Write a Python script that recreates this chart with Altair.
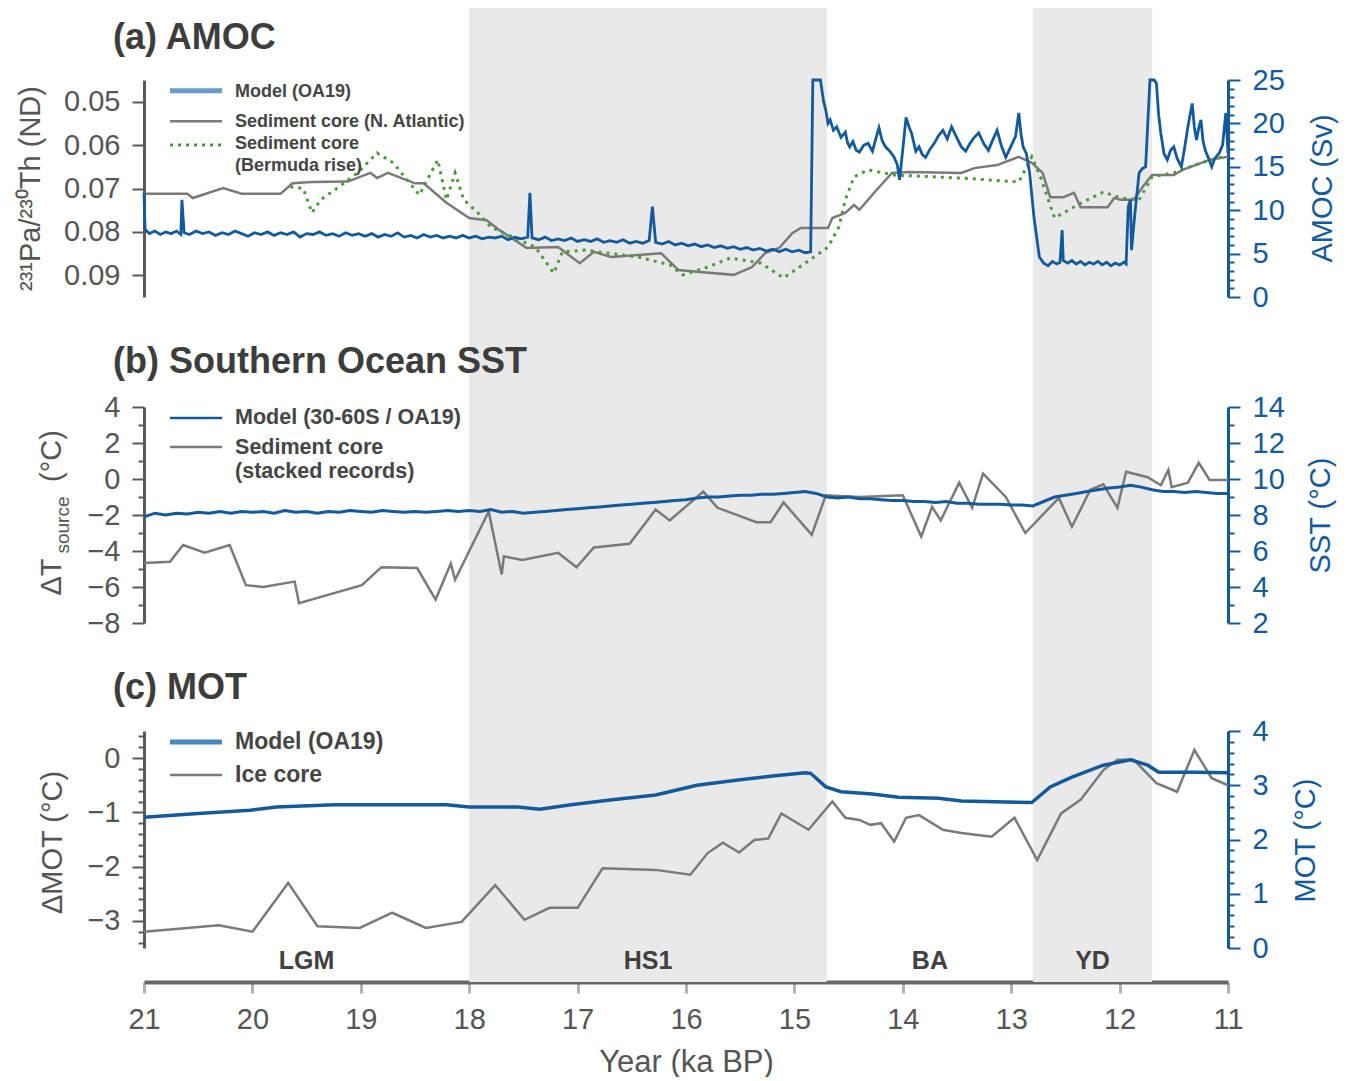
import altair as alt
import pandas as pd

# ---------------- data ----------------
# (a) AMOC model (Sv, right axis)
AMOC_T = [21.00, 20.99, 20.95, 20.90, 20.85, 20.80, 20.75, 20.70, 20.66, 20.65, 20.63, 20.58, 20.52, 20.46,
          20.40, 20.34, 20.28, 20.22, 20.16, 20.10, 20.04, 19.98, 19.92, 19.86, 19.80, 19.74, 19.68, 19.62,
          19.56, 19.50, 19.44, 19.38, 19.32, 19.26, 19.20, 19.14, 19.08, 19.02, 18.96, 18.90, 18.84, 18.78,
          18.72, 18.66, 18.60, 18.54, 18.48, 18.42, 18.36, 18.30, 18.24, 18.18, 18.12, 18.06, 18.00, 17.94,
          17.88, 17.82, 17.76, 17.70, 17.64, 17.58, 17.52, 17.46, 17.44, 17.42, 17.36, 17.30, 17.24, 17.18,
          17.12, 17.06, 17.00, 16.94, 16.88, 16.82, 16.76, 16.70, 16.64, 16.58, 16.52, 16.46, 16.40, 16.34,
          16.31, 16.28, 16.22, 16.16, 16.10, 16.04, 15.98, 15.92, 15.86, 15.80, 15.74, 15.68, 15.62, 15.56,
          15.50, 15.44, 15.38, 15.32, 15.26, 15.20, 15.14, 15.08, 15.02, 14.96, 14.90, 14.85,
          14.83, 14.76, 14.73, 14.71, 14.69, 14.67, 14.64, 14.61, 14.57, 14.53, 14.51, 14.49, 14.46, 14.43,
          14.40, 14.36, 14.32, 14.28, 14.25, 14.22, 14.19, 14.16, 14.12, 14.08, 14.05, 14.03, 14.00, 13.97,
          13.94, 13.92, 13.88, 13.85, 13.82, 13.79, 13.75, 13.71, 13.67, 13.63, 13.59, 13.55, 13.50, 13.46,
          13.42, 13.38, 13.34, 13.30, 13.25, 13.21, 13.17, 13.13, 13.09, 13.05, 13.02, 12.99, 12.96, 12.93,
          12.91, 12.89, 12.86, 12.83, 12.79, 12.74, 12.70, 12.66, 12.62, 12.58, 12.55, 12.53, 12.52, 12.48,
          12.44, 12.40, 12.36, 12.32, 12.28, 12.24, 12.20, 12.16, 12.12, 12.08, 12.04, 12.00, 11.96, 11.94,
          11.92, 11.90, 11.89, 11.86, 11.82, 11.79, 11.76, 11.74, 11.72, 11.68, 11.66, 11.64, 11.62, 11.59,
          11.56, 11.53, 11.50, 11.47, 11.43, 11.40, 11.37, 11.35, 11.33, 11.31, 11.29, 11.27, 11.25, 11.23,
          11.21, 11.18, 11.15, 11.12, 11.08, 11.05, 11.02, 11.00]
AMOC_SV = [12.0, 7.8, 7.3, 7.6, 7.2, 7.5, 7.3, 7.6, 7.2, 11.2, 7.4, 7.2, 7.6, 7.3,
           7.5, 7.1, 7.4, 7.2, 7.6, 7.3, 7.0, 7.4, 7.2, 7.5, 7.1, 7.4, 7.2, 7.5,
           6.9, 7.3, 7.2, 7.5, 7.1, 7.3, 7.0, 7.4, 7.1, 7.3, 7.0, 7.3, 6.9, 7.2,
           7.0, 7.4, 6.9, 7.1, 6.8, 7.2, 6.9, 7.1, 6.8, 7.0, 6.8, 7.1, 6.8, 7.0,
           6.7, 6.9, 6.8, 7.0, 6.6, 6.9, 6.7, 6.9, 12.0, 6.8, 6.6, 6.9, 6.5, 6.7,
           6.5, 6.8, 6.4, 6.6, 6.4, 6.7, 6.3, 6.5, 6.3, 6.6, 6.2, 6.4, 6.2, 6.5,
           10.4, 6.3, 6.1, 6.4, 6.0, 6.2, 5.9, 6.1, 5.8, 6.0, 5.7, 5.9, 5.6, 5.8,
           5.5, 5.7, 5.4, 5.6, 5.3, 5.5, 5.2, 5.5, 5.2, 5.4, 5.1, 5.2,
           25.0, 25.0, 22.5, 21.5, 20.0, 20.4, 19.2, 19.6, 18.4, 19.0, 17.8, 17.3, 17.9, 16.9,
           16.7, 17.5, 17.7, 16.8, 18.2, 19.5, 18.0, 17.3, 16.8, 16.1, 15.2, 13.5, 17.0, 20.7,
           19.5, 18.9, 16.8, 17.3, 16.4, 16.1, 17.0, 17.7, 18.6, 19.2, 18.2, 19.6, 18.3, 17.3,
           16.8, 17.7, 18.4, 18.9, 17.6, 16.9, 18.1, 19.2, 17.4, 16.1, 16.9, 17.7, 18.5, 21.2,
           18.8, 17.3, 16.5, 14.3, 9.2, 4.6, 3.9, 3.6, 4.1, 3.8, 4.0, 7.7, 4.2, 3.9,
           4.2, 3.8, 4.1, 3.7, 4.0, 3.8, 4.1, 3.7, 4.0, 3.6, 3.9, 3.7, 4.0, 3.8,
           10.4, 11.2, 5.4, 9.5, 14.3, 14.8, 15.0, 20.0, 25.0, 25.0, 24.6, 21.0, 18.9, 16.5,
           15.8, 16.9, 17.3, 16.0, 15.0, 17.2, 19.6, 21.0, 22.3, 19.5, 18.1, 19.5, 20.4, 18.0,
           16.9, 16.0, 15.0, 16.0, 16.6, 17.5, 21.2, 16.6]

# (a) 231Pa/230Th, N. Atlantic core (left axis)
NATL_T = [21.0, 20.6, 20.55, 20.27, 20.1, 19.74, 19.63, 19.45, 19.12, 18.91, 18.85, 18.75, 18.5, 18.42,
          18.21, 18.0, 17.84, 17.72, 17.47, 17.18, 16.98, 16.85, 16.69, 16.23, 16.07, 15.9, 15.56, 15.39,
          15.27, 15.14, 15.02, 14.94, 14.69, 14.65, 14.53, 14.45, 14.40, 14.24, 14.1, 13.95, 13.46, 13.34,
          13.13, 12.93, 12.81, 12.71, 12.64, 12.52, 12.42, 12.36, 12.11, 12.05, 11.99, 11.87, 11.79, 11.7,
          11.5, 11.42, 11.17, 11.0]
NATL_V = [0.0712, 0.0712, 0.0722, 0.0699, 0.0712, 0.0712, 0.0688, 0.0685, 0.0684, 0.0664, 0.0676, 0.0664,
          0.0688, 0.0688, 0.0733, 0.0768, 0.0773, 0.0796, 0.0837, 0.0835, 0.0872, 0.0846, 0.0858, 0.0849,
          0.0888, 0.0892, 0.0899, 0.0881, 0.0849, 0.0837, 0.0803, 0.0791, 0.0791, 0.0768, 0.0756, 0.0738,
          0.0749, 0.0703, 0.0664, 0.0662, 0.0664, 0.0653, 0.0646, 0.0627, 0.0641, 0.0664, 0.0720, 0.0720,
          0.0710, 0.0743, 0.0743, 0.0722, 0.0726, 0.0726, 0.0697, 0.0669, 0.0669, 0.0657, 0.0634, 0.0627]

# (a) 231Pa/230Th, Bermuda rise core (left axis)
BERM_T = [19.65, 19.53, 19.45, 19.37, 19.2, 19.03, 18.85, 18.7, 18.46, 18.29, 18.21, 18.13, 18.05, 17.92,
          17.8, 17.6, 17.39, 17.22, 17.14, 16.93, 16.44, 16.15, 16.03, 15.8, 15.59, 15.31, 15.1, 14.9,
          14.69, 14.59, 14.53, 14.45, 14.32, 14.08, 13.46, 12.93, 12.81, 12.73, 12.6, 12.39, 12.15, 11.99,
          11.82, 11.7, 11.5, 11.25, 11.05]
BERM_V = [0.0696, 0.0700, 0.0756, 0.0726, 0.0696, 0.0664, 0.0618, 0.0641, 0.0715, 0.0634, 0.0726, 0.0664,
          0.0726, 0.0756, 0.0789, 0.0812, 0.0835, 0.0895, 0.0846, 0.0842, 0.0858, 0.0876, 0.0899, 0.0881,
          0.0860, 0.0872, 0.0906, 0.0872, 0.0835, 0.0789, 0.0726, 0.0673, 0.0657, 0.0669, 0.0676, 0.0685,
          0.0627, 0.0673, 0.0768, 0.0738, 0.0708, 0.0722, 0.0726, 0.0673, 0.0664, 0.0641, 0.0627]

# (b) Southern Ocean SST, model (degC, right axis)
SST_T = [21.0, 20.9, 20.8, 20.7, 20.6, 20.5, 20.4, 20.3, 20.2, 20.1, 20.0, 19.9, 19.8, 19.7, 19.6, 19.5,
         19.4, 19.3, 19.2, 19.1, 19.0, 18.9, 18.8, 18.7, 18.6, 18.5, 18.4, 18.3, 18.2, 18.1, 18.0, 17.9,
         17.8, 17.7, 17.6, 17.5, 17.4, 17.3, 17.2, 17.1, 17.0, 16.9, 16.8, 16.7, 16.6, 16.5, 16.4, 16.3,
         16.2, 16.1, 16.0, 15.9, 15.8, 15.7, 15.6, 15.5, 15.4, 15.3, 15.2, 15.1, 15.0, 14.9, 14.8, 14.7,
         14.6, 14.5, 14.4, 14.3, 14.2, 14.1, 14.0, 13.9, 13.8, 13.7, 13.6, 13.5, 13.4, 13.3, 13.2, 13.1,
         13.0, 12.9, 12.8, 12.7, 12.6, 12.5, 12.4, 12.3, 12.2, 12.1, 12.0, 11.9, 11.8, 11.7, 11.6, 11.5,
         11.4, 11.3, 11.2, 11.1, 11.0]
SST_V = [7.9, 8.1, 8.0, 8.1, 8.05, 8.15, 8.1, 8.2, 8.1, 8.2, 8.15, 8.2, 8.1, 8.25, 8.15, 8.2,
         8.1, 8.2, 8.15, 8.25, 8.2, 8.15, 8.25, 8.2, 8.15, 8.2, 8.15, 8.2, 8.25, 8.2, 8.25, 8.2,
         8.3, 8.15, 8.2, 8.1, 8.15, 8.2, 8.25, 8.3, 8.35, 8.4, 8.45, 8.5, 8.55, 8.6, 8.65, 8.7,
         8.75, 8.8, 8.85, 8.95, 9.0, 9.0, 9.05, 9.1, 9.1, 9.15, 9.15, 9.2, 9.25, 9.3, 9.2, 9.0,
         8.95, 9.0, 8.9, 8.9, 8.85, 8.8, 8.8, 8.75, 8.75, 8.7, 8.75, 8.65, 8.65, 8.6, 8.6, 8.6,
         8.55, 8.55, 8.5, 8.75, 9.0, 9.1, 9.2, 9.3, 9.4, 9.5, 9.55, 9.65, 9.55, 9.4, 9.3, 9.3,
         9.25, 9.3, 9.25, 9.2, 9.2]

# (b) Delta T source, stacked sediment records (left axis)
DSST_T = [21.0, 20.76, 20.64, 20.44, 20.21, 20.06, 19.9, 19.61, 19.57, 18.99, 18.81, 18.48, 18.31, 18.17,
          18.13, 17.82, 17.7, 17.68, 17.51, 17.18, 17.01, 16.85, 16.52, 16.28, 16.15, 15.84, 15.71, 15.35,
          15.22, 15.1, 14.84, 14.71, 14.4, 14.0, 13.83, 13.73, 13.65, 13.48, 13.36, 13.26, 13.05, 12.87,
          12.56, 12.44, 12.27, 12.15, 12.02, 11.94, 11.74, 11.62, 11.55, 11.52, 11.37, 11.27, 11.17, 11.0]
DSST_V = [-4.67, -4.6, -3.67, -4.1, -3.67, -5.9, -6.0, -5.7, -6.9, -5.9, -4.9, -4.95, -6.7, -4.7,
          -5.6, -1.8, -5.3, -4.3, -4.5, -4.1, -4.9, -3.8, -3.6, -1.7, -2.3, -0.7, -1.6, -2.4,
          -2.4, -1.3, -3.1, -0.9, -1.0, -0.9, -3.2, -1.55, -2.3, -0.2, -1.6, 0.3, -1.0, -3.0,
          -1.05, -2.65, -0.6, -0.3, -1.6, 0.4, 0.1, -0.35, 0.5, -0.45, -0.2, 0.9, -0.05, -0.05]

# (c) MOT model (degC, right axis)
MOT_T = [21.0, 20.5, 20.02, 19.78, 19.24, 18.71, 18.21, 18.0, 17.55, 17.35, 17.06, 16.7, 16.28, 15.9,
         15.5, 15.2, 14.9, 14.85, 14.71, 14.57, 14.28, 14.04, 13.67, 13.46, 13.05, 12.81, 12.64, 12.44,
         12.15, 11.9, 11.74, 11.64, 11.3, 11.0]
MOT_V = [2.41, 2.48, 2.54, 2.60, 2.64, 2.64, 2.64, 2.60, 2.60, 2.56, 2.64, 2.73, 2.82, 3.00,
         3.10, 3.17, 3.23, 3.22, 2.97, 2.88, 2.84, 2.78, 2.76, 2.71, 2.69, 2.68, 2.97, 3.15,
         3.37, 3.47, 3.37, 3.24, 3.24, 3.23]

# (c) Delta MOT, ice core (left axis)
DMOT_T = [21.0, 20.31, 20.0, 19.67, 19.4, 19.01, 18.71, 18.4, 18.07, 17.76, 17.49, 17.26, 17.0, 16.77,
          16.28, 15.96, 15.8, 15.66, 15.51, 15.37, 15.24, 15.12, 14.87, 14.65, 14.53, 14.4, 14.3, 14.2,
          14.08, 13.97, 13.85, 13.63, 13.46, 13.18, 12.97, 12.76, 12.54, 12.36, 12.15, 12.02, 11.87, 11.66,
          11.47, 11.31, 11.15, 11.0]
DMOT_V = [-3.2, -3.08, -3.2, -2.3, -3.1, -3.13, -2.85, -3.13, -3.02, -2.34, -2.98, -2.76, -2.76, -2.03,
          -2.06, -2.15, -1.75, -1.56, -1.74, -1.51, -1.48, -1.02, -1.32, -0.8, -1.1, -1.14, -1.23, -1.2,
          -1.54, -1.1, -1.05, -1.32, -1.38, -1.45, -1.1, -1.88, -1.02, -0.77, -0.22, -0.03, -0.03, -0.46,
          -0.62, 0.15, -0.37, -0.5]

PERIOD_NAMES = ["LGM", "HS1", "BA", "YD"]
PERIOD_MID = [19.5, 16.35, 13.75, 12.25]
SHADE_START = [18.0, 12.8]
SHADE_END = [14.7, 11.7]
X_TICKS = [11, 12, 13, 14, 15, 16, 17, 18, 19, 20, 21]

# ---------------- styling ----------------
W, H = 1084, 974
FONT = "Liberation Sans, Arial, sans-serif"
BLUE = "#135a9c"
BLUE_LIGHT = "#6a9bcb"
GRAYL = "#7a7a7a"
GREEN = "#4c9a3c"
SHADE = "#e9e9e9"
AX_GRAY = "#5a5a5a"
TXT = "#555555"
TTL = "#3d3d3d"

RA = [72, 289]
RB = [399, 615]
RC = [723, 940]

XS = alt.Scale(domain=[11, 21], reverse=True, nice=False, zero=False)
XAX = alt.Axis(values=X_TICKS, format="d", title="Year (ka BP)", grid=False, tickCount=100,
               domainColor="#666666", domainWidth=4, tickColor="#b0b0b0", tickWidth=3, tickSize=11,
               labelFont=FONT, labelFontSize=29, labelColor=TXT, labelPadding=12, labelFlush=False,
               labelOverlap=False,
               titleFont=FONT, titleFontSize=31, titleFontWeight="normal", titleColor=TXT,
               titleX=W / 2, titleY=80, titleAlign="center", titleBaseline="middle")


def X(field):
    return alt.X(f"{field}:Q", scale=XS, axis=XAX)


def ysc(domain, rng):
    return alt.Scale(domain=domain, range=rng, nice=False, zero=False)


def yaxis(orient, values, color, fmt, title, tx, ty, minstep, major_test=None, big=12, small=6):
    kw = dict(orient=orient, values=values, format=fmt, grid=False,
              tickCount=500, tickMinStep=minstep,
              domainColor=color, domainWidth=3, tickColor=color, tickWidth=2,
              labelFont=FONT, labelFontSize=29, labelColor=(TXT if color == AX_GRAY else color),
              labelPadding=12, labelFlush=False, labelOverlap=False, labelBound=False)
    if major_test:
        kw["tickSize"] = {"condition": {"test": major_test, "value": big}, "value": small}
        kw["labelExpr"] = f"({major_test}) ? datum.label : ''"
    else:
        kw["tickSize"] = big
    if title:
        kw.update(title=title, titleFont=FONT, titleFontSize=29, titleFontWeight="normal",
                  titleColor=(TXT if color == AX_GRAY else color), titleX=tx, titleY=ty,
                  titleAngle=270, titleAlign="center", titleBaseline="middle")
    else:
        kw["title"] = ""
    return alt.Axis(**kw)


def df(**cols):
    return pd.DataFrame(cols)


layers = []

# shaded periods
layers.append(alt.Chart(df(s=SHADE_START, e=SHADE_END)).mark_rect(color=SHADE).encode(
    x=X("s"), x2="e", y=alt.value(0), y2=alt.value(H)))

# ---------- panel (a) ----------
SA_L = ([0.045, 0.095], RA)
SA_R = ([0, 25], [RA[1], RA[0]])
ax_a_left = yaxis("left", [0.05, 0.06, 0.07, 0.08, 0.09], AX_GRAY, ".2f",
                  "²³¹Pa/²³⁰Th (ND)", -114, 180, 0.0005)
ax_a_right = yaxis("right", list(range(0, 26)), BLUE, "d", "AMOC (Sv)", 94, 180, 0.1,
                   major_test="datum.value % 5 === 0")

layers.append(alt.Chart(df(t=NATL_T, v=NATL_V)).mark_line(color=GRAYL, strokeWidth=2.5).encode(
    x=X("t"), y=alt.Y("v:Q", scale=ysc(*SA_L), axis=ax_a_left)))
layers.append(alt.Chart(df(t=BERM_T, v=BERM_V)).mark_line(color=GREEN, strokeWidth=3, strokeDash=[3, 5]).encode(
    x=X("t"), y=alt.Y("v:Q", scale=ysc(*SA_L), axis=None)))
layers.append(alt.Chart(df(t=AMOC_T, v=AMOC_SV)).mark_line(color=BLUE, strokeWidth=2.8).encode(
    x=X("t"), y=alt.Y("v:Q", scale=ysc(*SA_R), axis=ax_a_right)))

# ---------- panel (b) ----------
SB_L = ([-8, 4], [RB[1], RB[0]])
SB_R = ([2, 14], [RB[1], RB[0]])
ax_b_left = yaxis("left", list(range(-8, 5)), AX_GRAY, "d", None, 0, 0, 0.1,
                  major_test="datum.value % 2 === 0")
ax_b_right = yaxis("right", list(range(2, 15)), BLUE, "d", "SST (°C)", 92, 507, 0.1,
                   major_test="datum.value % 2 === 0")
layers.append(alt.Chart(df(t=DSST_T, v=DSST_V)).mark_line(color=GRAYL, strokeWidth=2.5).encode(
    x=X("t"), y=alt.Y("v:Q", scale=ysc(*SB_L), axis=ax_b_left)))
layers.append(alt.Chart(df(t=SST_T, v=SST_V)).mark_line(color=BLUE, strokeWidth=3).encode(
    x=X("t"), y=alt.Y("v:Q", scale=ysc(*SB_R), axis=ax_b_right)))

# ---------- panel (c) ----------
SC_L = ([-3.5, 0.5], [RC[1], RC[0]])
SC_R = ([0, 4], [RC[1], RC[0]])
C_LEFT_TICKS = [-3.4, -3.2, -3.0, -2.8, -2.6, -2.4, -2.2, -2.0, -1.8, -1.6, -1.4, -1.2, -1.0,
                -0.8, -0.6, -0.4, -0.2, 0.0, 0.2, 0.4]
C_RIGHT_TICKS = [0.0, 0.2, 0.4, 0.6, 0.8, 1.0, 1.2, 1.4, 1.6, 1.8, 2.0, 2.2, 2.4, 2.6, 2.8,
                 3.0, 3.2, 3.4, 3.6, 3.8, 4.0]
INT_TEST = "abs(datum.value - round(datum.value)) < 0.001"
ax_c_left = yaxis("left", C_LEFT_TICKS, AX_GRAY, ".0f", "ΔMOT (°C)", -92, 834, 0.01, major_test=INT_TEST)
ax_c_right = yaxis("right", C_RIGHT_TICKS, BLUE, ".0f", "MOT (°C)", 77, 832, 0.01, major_test=INT_TEST)
layers.append(alt.Chart(df(t=DMOT_T, v=DMOT_V)).mark_line(color=GRAYL, strokeWidth=2.5).encode(
    x=X("t"), y=alt.Y("v:Q", scale=ysc(*SC_L), axis=ax_c_left)))
layers.append(alt.Chart(df(t=MOT_T, v=MOT_V)).mark_line(color=BLUE, strokeWidth=3.5).encode(
    x=X("t"), y=alt.Y("v:Q", scale=ysc(*SC_R), axis=ax_c_right)))

# ---------- legends (placed through each panel's scales) ----------
LEG_X0, LEG_X1, LEG_TX = 20.76, 20.28, 20.16


def leg_line(yv, scale, color, width, dash=None):
    mk = dict(color=color, strokeWidth=width, strokeCap="butt")
    if dash:
        mk["strokeDash"] = dash
    return alt.Chart(df(a=[LEG_X0], b=[LEG_X1], v=[yv])).mark_rule(**mk).encode(
        x=X("a"), x2="b", y=alt.Y("v:Q", scale=ysc(*scale), axis=None))


def leg_text(labels, yvals, scale, size):
    return alt.Chart(df(t=[LEG_TX] * len(labels), v=yvals, lab=labels)).mark_text(
        align="left", baseline="middle", font=FONT, fontSize=size, fontWeight="bold", color="#454545"
    ).encode(x=X("t"), y=alt.Y("v:Q", scale=ysc(*scale), axis=None), text="lab:N")


LEG_A_LABELS = ["Model (OA19)", "Sediment core (N. Atlantic)", "Sediment core", "(Bermuda rise)"]
LEG_A_Y = [0.0477, 0.0547, 0.0598, 0.0648]
layers += [leg_line(0.0475, SA_L, BLUE_LIGHT, 5), leg_line(0.0545, SA_L, GRAYL, 2.5),
           leg_line(0.0600, SA_L, GREEN, 3, [3, 5]), leg_text(LEG_A_LABELS, LEG_A_Y, SA_L, 18)]

LEG_B_LABELS = ["Model (30-60S / OA19)", "Sediment core", "(stacked records)"]
LEG_B_Y = [3.39, 1.70, 0.40]
layers += [leg_line(3.39, SB_L, BLUE, 2.5), leg_line(1.78, SB_L, GRAYL, 2.5),
           leg_text(LEG_B_LABELS, LEG_B_Y, SB_L, 21.5)]

LEG_C_LABELS = ["Model (OA19)", "Ice core"]
LEG_C_Y = [0.297, -0.311]
layers += [leg_line(0.297, SC_L, "#4a86c0", 5), leg_line(-0.311, SC_L, GRAYL, 2.5),
           leg_text(LEG_C_LABELS, LEG_C_Y, SC_L, 23)]

# ---------- period labels ----------
layers.append(alt.Chart(df(t=PERIOD_MID, lab=PERIOD_NAMES)).mark_text(
    align="center", baseline="middle", font=FONT, fontSize=25, fontWeight="bold", color="#404040"
).encode(x=X("t"), y=alt.value(953), text="lab:N"))

# ---------- panel titles and the left title of panel (b) ----------
one = pd.DataFrame({"k": [0]})
for txt, py in [("(a) AMOC", 30), ("(b) Southern Ocean SST", 354), ("(c) MOT", 680)]:
    layers.append(alt.Chart(one).mark_text(
        align="left", baseline="middle", font=FONT, fontSize=36, fontWeight="bold", color=TTL, text=txt
    ).encode(x=alt.value(-31), y=alt.value(py)))

for txt, px, py, fs in [("ΔT", -92, 569, 29), ("source", -81, 517, 19), ("(°C)", -92, 448, 29)]:
    layers.append(alt.Chart(one).mark_text(
        align="center", baseline="middle", font=FONT, fontSize=fs, color=TXT, angle=270, text=txt
    ).encode(x=alt.value(px), y=alt.value(py)))

chart = alt.layer(*layers).resolve_scale(y="independent").properties(
    width=W, height=H,
    autosize=alt.AutoSizeParams(type="none"),
    padding={"left": 136, "top": 0, "right": 112, "bottom": 95},
).configure_view(stroke=None)

chart.save("out.html", embed_options={"renderer": "svg", "actions": False})
